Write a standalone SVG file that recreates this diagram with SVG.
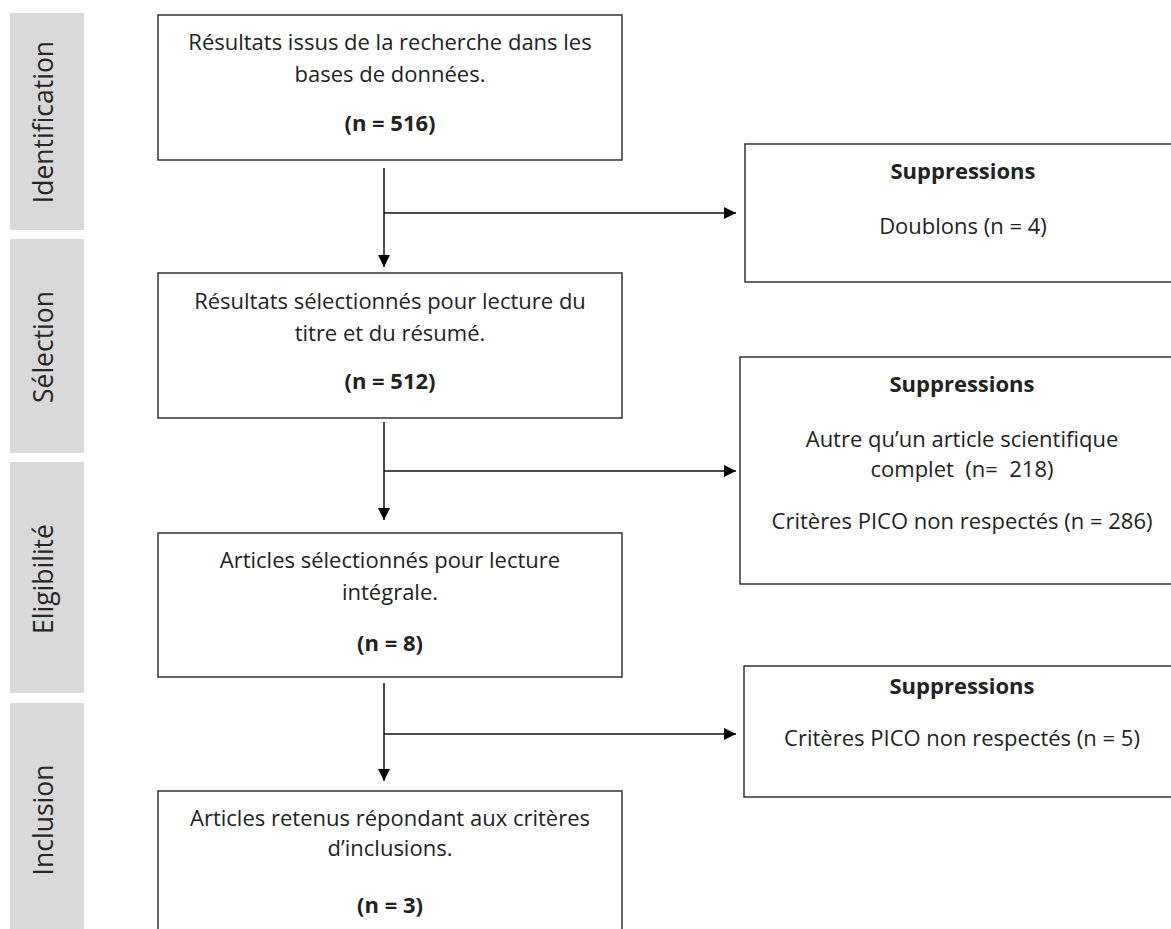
<svg xmlns="http://www.w3.org/2000/svg" width="1171" height="929" viewBox="0 0 1171 929">
  <style>
    .bar { fill: #d9d9d9; }
    .phase { font-family: "Open Sans", "Noto Sans", sans-serif; font-size: 26.5px; fill: #262626; text-anchor: middle; }
    .box { fill: #ffffff; stroke: #333333; stroke-width: 1.5; }
    .t { font-family: "Open Sans", "Noto Sans", sans-serif; font-size: 22px; fill: #222222; text-anchor: middle; white-space: pre; }
    .b { font-weight: bold; }
    .conn { fill: none; stroke: #111111; stroke-width: 1.5; }
  </style>
  <defs>
    <marker id="arrow" markerUnits="userSpaceOnUse" markerWidth="13" markerHeight="13" refX="12" refY="6" orient="auto">
      <path d="M0,0 L12,6 L0,12 z" fill="#000000"/>
    </marker>
  </defs>
  <rect width="1171" height="929" fill="#ffffff"/>

  <g id="phase-identification">
    <rect class="bar" x="10" y="13" width="74" height="217"/>
    <text class="phase" transform="translate(53,122) rotate(-90)">Identification</text>
  </g>
  <g id="phase-selection">
    <rect class="bar" x="10" y="239" width="74" height="214"/>
    <text class="phase" transform="translate(53,347) rotate(-90)">Sélection</text>
  </g>
  <g id="phase-eligibilite">
    <rect class="bar" x="10" y="462" width="74" height="231"/>
    <text class="phase" transform="translate(53,579) rotate(-90)">Eligibilité</text>
  </g>
  <g id="phase-inclusion">
    <rect class="bar" x="10" y="703" width="74" height="240"/>
    <text class="phase" transform="translate(53,820) rotate(-90)">Inclusion</text>
  </g>

  <g id="box-identification">
    <rect class="box" x="158" y="15" width="464" height="145"/>
    <text class="t" x="390" y="50">Résultats issus de la recherche dans les</text>
    <text class="t" x="390" y="82">bases de données.</text>
    <text class="t b" x="390" y="131">(n = 516)</text>
  </g>
  <g id="box-selection">
    <rect class="box" x="158" y="273" width="464" height="145"/>
    <text class="t" x="390" y="309">Résultats sélectionnés pour lecture du</text>
    <text class="t" x="390" y="341">titre et du résumé.</text>
    <text class="t b" x="390" y="389">(n = 512)</text>
  </g>
  <g id="box-eligibilite">
    <rect class="box" x="158" y="533" width="464" height="144"/>
    <text class="t" x="390" y="568">Articles sélectionnés pour lecture</text>
    <text class="t" x="390" y="600">intégrale.</text>
    <text class="t b" x="390" y="651">(n = 8)</text>
  </g>
  <g id="box-inclusion">
    <rect class="box" x="158" y="791" width="464" height="160"/>
    <text class="t" x="390" y="826">Articles retenus répondant aux critères</text>
    <text class="t" x="390" y="856">d’inclusions.</text>
    <text class="t b" x="390" y="913">(n = 3)</text>
  </g>

  <g id="excl-doublons">
    <rect class="box" x="745" y="144" width="438" height="138"/>
    <text class="t b" x="963" y="179">Suppressions</text>
    <text class="t" x="963" y="234">Doublons (n = 4)</text>
  </g>
  <g id="excl-titre-resume">
    <rect class="box" x="740" y="357" width="443" height="227"/>
    <text class="t b" x="962" y="392">Suppressions</text>
    <text class="t" x="962" y="447">Autre qu’un article scientifique</text>
    <text class="t" x="962" y="477">complet  (n=  218)</text>
    <text class="t" x="962" y="529">Critères PICO non respectés (n = 286)</text>
  </g>
  <g id="excl-integral">
    <rect class="box" x="744" y="666" width="439" height="131"/>
    <text class="t b" x="962" y="694">Suppressions</text>
    <text class="t" x="962" y="746">Critères PICO non respectés (n = 5)</text>
  </g>

  <g id="connectors">
    <line class="conn" x1="384" y1="168" x2="384" y2="267" marker-end="url(#arrow)"/>
    <line class="conn" x1="384" y1="213" x2="736" y2="213" marker-end="url(#arrow)"/>
    <line class="conn" x1="384" y1="422" x2="384" y2="520" marker-end="url(#arrow)"/>
    <line class="conn" x1="384" y1="471" x2="736" y2="471" marker-end="url(#arrow)"/>
    <line class="conn" x1="384" y1="683" x2="384" y2="781" marker-end="url(#arrow)"/>
    <line class="conn" x1="384" y1="734" x2="736" y2="734" marker-end="url(#arrow)"/>
  </g>
</svg>
